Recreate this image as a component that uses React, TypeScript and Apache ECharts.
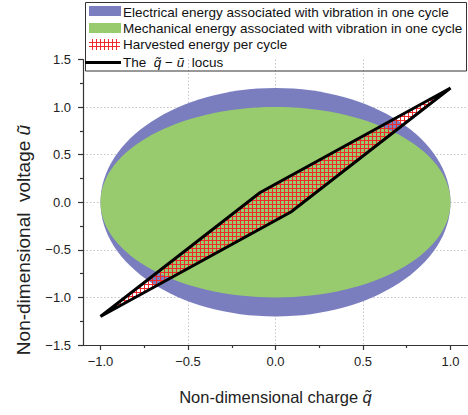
import React, { useEffect, useRef } from 'react';
import * as echarts from 'echarts';

// ---- data ----
const xMajorTicks = [-1.0, -0.5, 0.0, 0.5, 1.0];
const xMinorTicks = [-0.75, -0.25, 0.25, 0.75];
const xRange = [-1.1, 1.1];
const yRange = [-1.5, 1.5];

const legendNames = [
  'Electrical energy associated with vibration in one cycle',
  'Mechanical energy associated with vibration in one cycle',
  'Harvested energy per cycle',
];

// ellipses: electrical (outer, blue) and mechanical (inner, green)
const ellipseCx = [0, 0];
const ellipseCy = [0, 0];
const ellipseRx = [1.0, 1.0];
const ellipseRy = [1.2, 1.0];

// q-u locus polygon
const locusQ = [-1.0, -0.09, 1.0, 0.09, -1.0];
const locusU = [-1.2, 0.1, 1.2, -0.1, -1.2];

const FONT = '"Liberation Sans", Arial, Helvetica, sans-serif';
const BLUE = '#7a7ebf';
const GREEN = '#98cb6e';
const RED = '#f02a2a';
const HATCH_STEP = 4;

function fmt(v: number) {
  return (v < 0 ? '\u2212' : '') + Math.abs(v).toFixed(1);
}

// hatch lines clipped to a convex polygon (pixel space)
function hatchLines(pts: number[][]) {
  const xs = pts.map((p) => p[0]);
  const ys = pts.map((p) => p[1]);
  const minX = Math.min(...xs), maxX = Math.max(...xs);
  const minY = Math.min(...ys), maxY = Math.max(...ys);
  const out: any[] = [];
  const n = pts.length;
  for (let X = Math.ceil(minX / HATCH_STEP) * HATCH_STEP + 0.5; X < maxX; X += HATCH_STEP) {
    const hits: number[] = [];
    for (let i = 0; i < n - 1; i++) {
      const p = pts[i], q = pts[i + 1];
      if (p[0] === q[0]) continue;
      if ((p[0] - X) * (q[0] - X) <= 0) hits.push(p[1] + ((X - p[0]) / (q[0] - p[0])) * (q[1] - p[1]));
    }
    if (hits.length >= 2) {
      out.push({
        type: 'line',
        shape: { x1: X, y1: Math.min(...hits), x2: X, y2: Math.max(...hits) },
        style: { stroke: RED, lineWidth: 1 },
      });
    }
  }
  for (let Y = Math.ceil(minY / HATCH_STEP) * HATCH_STEP + 0.5; Y < maxY; Y += HATCH_STEP) {
    const hits: number[] = [];
    for (let i = 0; i < n - 1; i++) {
      const p = pts[i], q = pts[i + 1];
      if (p[1] === q[1]) continue;
      if ((p[1] - Y) * (q[1] - Y) <= 0) hits.push(p[0] + ((Y - p[1]) / (q[1] - p[1])) * (q[0] - p[0]));
    }
    if (hits.length >= 2) {
      out.push({
        type: 'line',
        shape: { x1: Math.min(...hits), y1: Y, x2: Math.max(...hits), y2: Y },
        style: { stroke: RED, lineWidth: 1 },
      });
    }
  }
  return out;
}

export default function App() {
  const ref = useRef<HTMLDivElement>(null);

  useEffect(() => {
    if (!ref.current) return;
    const chart = echarts.init(ref.current, null, { renderer: 'svg' });

    const axisLineStyle = { color: '#333', width: 1.2 };
    const splitStyle = { color: '#c4c4c4', width: 1, type: [1.5, 2] as any };

    const ellipseSeries = ellipseRx.map((rx, i) => ({
      type: 'custom',
      name: legendNames[i],
      xAxisIndex: 0,
      yAxisIndex: 0,
      z: 2 + i,
      data: [[ellipseCx[i], ellipseCy[i], rx, ellipseRy[i]]],
      renderItem: (params: any, api: any) => {
        const c = api.coord([api.value(0), api.value(1)]);
        const s = api.size([api.value(2), api.value(3)]);
        return {
          type: 'ellipse',
          shape: { cx: c[0], cy: c[1], rx: s[0], ry: s[1] },
          style: { fill: i === 0 ? BLUE : GREEN, stroke: 'none' },
        };
      },
    }));

    const locusSeries = {
      type: 'custom',
      name: 'locus',
      xAxisIndex: 0,
      yAxisIndex: 0,
      z: 5,
      data: locusQ.map((q, i) => [q, locusU[i]]),
      renderItem: (params: any, api: any) => {
        if (params.dataIndex !== 0) return null;
        const pts = locusQ.map((q, i) => api.coord([q, locusU[i]]));
        return {
          type: 'group',
          children: [
            ...hatchLines(pts),
            {
              type: 'polygon',
              shape: { points: pts },
              style: { fill: 'none', stroke: '#000', lineWidth: 3, lineJoin: 'miter' },
            },
          ],
        };
      },
    };

    const legendX = 89;
    const textX = 123;
    const rowsY = [12.5, 28.5, 44.5, 62];

    const legendHatch: any[] = [];
    for (let x = 92.5; x <= 117; x += 4) {
      legendHatch.push({
        type: 'line',
        z: 101,
        shape: { x1: x, y1: 39, x2: x, y2: 50 },
        style: { stroke: RED, lineWidth: 1 },
      });
    }
    [42.5, 46.5].forEach((y) =>
      legendHatch.push({
        type: 'line',
        z: 101,
        shape: { x1: 89, y1: y, x2: 120, y2: y },
        style: { stroke: RED, lineWidth: 1 },
      })
    );

    chart.setOption({
      animation: false,
      textStyle: { fontFamily: FONT },
      grid: { left: 83, right: 0, top: 59.5, bottom: 70, containLabel: false },
      xAxis: [
        {
          type: 'value',
          min: xRange[0],
          max: xRange[1],
          position: 'bottom',
          axisLine: { show: true, onZero: false, lineStyle: axisLineStyle },
          axisTick: { show: true, customValues: xMajorTicks, length: 5, lineStyle: axisLineStyle },
          axisLabel: {
            customValues: xMajorTicks,
            formatter: (v: number) => fmt(v),
            fontSize: 13,
            color: '#222',
            margin: 10,
          },
          splitLine: { show: true, showMinLine: false, showMaxLine: false, lineStyle: splitStyle },
          name: 'Non-dimensional charge {i|q\u0303}',
          nameLocation: 'middle',
          nameGap: 43,
          nameTextStyle: {
            fontSize: 16.5,
            color: '#222',
            rich: { i: { fontSize: 16.5, fontStyle: 'italic', color: '#222' } },
          },
        },
        {
          type: 'value',
          min: xRange[0],
          max: xRange[1],
          position: 'bottom',
          axisLine: { show: false, onZero: false },
          axisTick: { show: true, customValues: xMinorTicks, length: 3, lineStyle: axisLineStyle },
          axisLabel: { show: false },
          splitLine: { show: false },
        },
      ],
      yAxis: {
        type: 'value',
        min: yRange[0],
        max: yRange[1],
        interval: 0.5,
        axisLine: { show: true, onZero: false, lineStyle: axisLineStyle },
        axisTick: { show: true, length: 5, lineStyle: axisLineStyle },
        minorTick: { show: true, splitNumber: 2, length: 3, lineStyle: axisLineStyle },
        axisLabel: { formatter: (v: number) => fmt(v), fontSize: 13, color: '#222', margin: 12 },
        splitLine: { show: true, showMinLine: false, showMaxLine: false, lineStyle: splitStyle },
      },
      series: [...ellipseSeries, locusSeries],
      graphic: [
        {
          type: 'text',
          z: 100,
          x: 23,
          y: 240,
          rotation: Math.PI / 2,
          style: {
            text: 'Non-dimensional  voltage {i|u\u0303}',
            fontSize: 19,
            fontFamily: FONT,
            fill: '#222',
            align: 'center',
            verticalAlign: 'middle',
            rich: { i: { fontSize: 19, fontStyle: 'italic', fontFamily: FONT, fill: '#222' } },
          },
        },
        {
          type: 'rect',
          z: 100,
          shape: { x: 85.5, y: 2.5, width: 381, height: 68.5 },
          style: { fill: 'rgba(255,255,255,0)', stroke: '#333', lineWidth: 1 },
        },
        { type: 'rect', z: 101, shape: { x: legendX, y: 6, width: 32, height: 10 }, style: { fill: BLUE } },
        { type: 'rect', z: 101, shape: { x: legendX, y: 23, width: 32, height: 10 }, style: { fill: GREEN } },
        ...legendHatch,
        {
          type: 'line',
          z: 101,
          shape: { x1: 85, y1: 62.5, x2: 121, y2: 62.5 },
          style: { stroke: '#000', lineWidth: 3 },
        },
        ...legendNames.map((t, i) => ({
          type: 'text',
          z: 101,
          x: textX,
          y: rowsY[i],
          style: { text: t, fontSize: 13.5, fontFamily: FONT, fill: '#111', verticalAlign: 'middle' },
        })),
        {
          type: 'text',
          z: 101,
          x: textX,
          y: rowsY[3],
          style: {
            text: 'The  {i|q\u0303} \u2212 {i|u\u0303}  locus',
            fontSize: 13.5,
            fontFamily: FONT,
            fill: '#111',
            verticalAlign: 'middle',
            rich: { i: { fontSize: 13.5, fontStyle: 'italic', fontFamily: FONT, fill: '#111' } },
          },
        },
      ],
    });

    return () => chart.dispose();
  }, []);

  return (
    <div
      ref={ref}
      style={{ position: 'fixed', left: 0, top: 0, width: 468, height: 415, background: '#fff' }}
    />
  );
}
